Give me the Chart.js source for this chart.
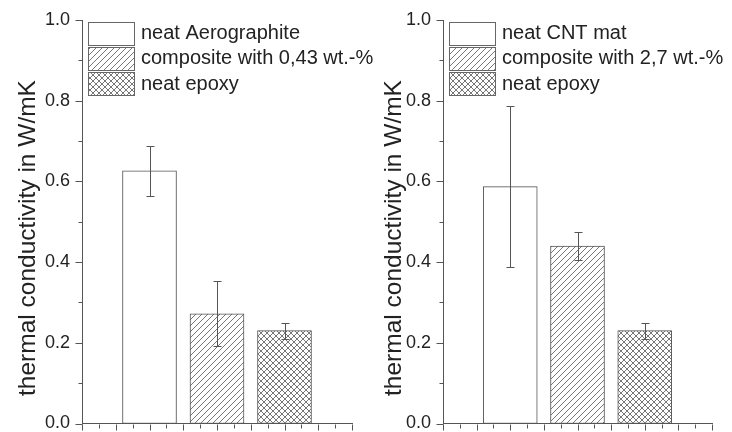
<!DOCTYPE html>
<html>
<head>
<meta charset="utf-8">
<script src="https://cdn.jsdelivr.net/npm/chart.js@4.4.1/dist/chart.umd.min.js"></script>
<style>
  body { margin: 0; background: #fff; }
  .panel { position: absolute; top: 0; height: 432px; }
</style>
</head>
<body>
<div class="panel" style="left:366px"><canvas id="cnt" width="366" height="432"></canvas></div>
<!-- left canvas is wider so its longest legend entry can run past the panel edge -->
<div class="panel" style="left:0"><canvas id="aero" width="392" height="432"></canvas></div>
<script>
// bar centres on the (unlabelled) x scale
const barPositions = [2, 4, 6];

// left panel: Aerographite
const aeroLabels = ["neat Aerographite", "composite with 0,43 wt.-%", "neat epoxy"];
const aeroValues = [0.626, 0.272, 0.23];
const aeroErrors = [0.062, 0.08, 0.02];

// right panel: CNT mat
const cntLabels = ["neat CNT mat", "composite with 2,7 wt.-%", "neat epoxy"];
const cntValues = [0.587, 0.44, 0.23];
const cntErrors = [0.2, 0.035, 0.02];

const yMajorTicks = [0, 0.2, 0.4, 0.6, 0.8, 1.0];
const yMinorTicks = [0.1, 0.3, 0.5, 0.7, 0.9];
const xMajorTicks = [0, 1, 2, 3, 4, 5, 6, 7, 8];
const xMinorTicks = [0.5, 1.5, 2.5, 3.5, 4.5, 5.5, 6.5, 7.5];

const yTitle = "thermal conductivity in W/mK";
const FONT = "'Liberation Sans', Arial, sans-serif";
const LINE = "#555";
const TEXT = "#222";

function makePattern(kind) {
  const s = 6;
  const c = document.createElement("canvas");
  c.width = s;
  c.height = s;
  const g = c.getContext("2d");
  g.fillStyle = "#fff";
  g.fillRect(0, 0, s, s);
  g.strokeStyle = "#777";
  g.lineWidth = 1;
  g.beginPath();
  g.moveTo(-1, s + 1); g.lineTo(s + 1, -1);
  g.moveTo(-1, 1); g.lineTo(1, -1);
  g.moveTo(s - 1, s + 1); g.lineTo(s + 1, s - 1);
  if (kind === "cross") {
    g.moveTo(-1, -1); g.lineTo(s + 1, s + 1);
    g.moveTo(s - 1, -1); g.lineTo(s + 1, 1);
    g.moveTo(-1, s - 1); g.lineTo(1, s + 1);
  }
  g.stroke();
  return g.createPattern(c, "repeat");
}

// outward tick marks, long on major and short on minor values
const tickMarks = {
  id: "tickMarks",
  afterDraw(chart) {
    const { ctx } = chart;
    const x = chart.scales.x, y = chart.scales.y;
    ctx.save();
    ctx.strokeStyle = LINE;
    ctx.lineWidth = 1;
    ctx.beginPath();
    const ax = Math.round(y.right) + 0.5;
    yMajorTicks.forEach((v) => {
      const py = Math.round(y.getPixelForValue(v)) + 0.5;
      ctx.moveTo(ax, py); ctx.lineTo(ax - 7, py);
    });
    yMinorTicks.forEach((v) => {
      const py = Math.round(y.getPixelForValue(v)) + 0.5;
      ctx.moveTo(ax, py); ctx.lineTo(ax - 4, py);
    });
    const ay = Math.round(x.top) + 0.5;
    xMajorTicks.forEach((v) => {
      const px = Math.round(x.getPixelForValue(v)) + 0.5;
      ctx.moveTo(px, ay); ctx.lineTo(px, ay + 6);
    });
    xMinorTicks.forEach((v) => {
      const px = Math.round(x.getPixelForValue(v)) + 0.5;
      ctx.moveTo(px, ay); ctx.lineTo(px, ay + 4);
    });
    ctx.stroke();
    ctx.restore();
  },
};

// symmetric error bars with caps
const errorBars = {
  id: "errorBars",
  afterDatasetsDraw(chart, args, opts) {
    const { ctx } = chart;
    const y = chart.scales.y;
    ctx.save();
    ctx.strokeStyle = LINE;
    ctx.lineWidth = 1;
    ctx.beginPath();
    chart.data.datasets.forEach((ds, i) => {
      const bar = chart.getDatasetMeta(i).data[0];
      const v = ds.data[0].y;
      const e = opts.errors[i];
      const px = Math.round(bar.x) + 0.5;
      const top = Math.round(y.getPixelForValue(v + e)) + 0.5;
      const bot = Math.round(y.getPixelForValue(v - e)) + 0.5;
      ctx.moveTo(px, top); ctx.lineTo(px, bot);
      ctx.moveTo(px - 4, top); ctx.lineTo(px + 4, top);
      ctx.moveTo(px - 4, bot); ctx.lineTo(px + 4, bot);
    });
    ctx.stroke();
    ctx.restore();
  },
};

// stacked legend in the top-left corner of the plot
const boxLegend = {
  id: "boxLegend",
  afterDraw(chart) {
    const { ctx, chartArea } = chart;
    const x0 = chartArea.left + 6;
    ctx.save();
    ctx.font = "20px " + FONT;
    ctx.textBaseline = "middle";
    chart.data.datasets.forEach((ds, i) => {
      const top = chartArea.top + 1.5 + i * 25.4;
      ctx.fillStyle = ds.backgroundColor;
      ctx.fillRect(x0, top, 46, 23);
      ctx.strokeStyle = "#666";
      ctx.lineWidth = 1;
      ctx.strokeRect(Math.round(x0) + 0.5, Math.round(top) + 0.5, 46, 23);
      ctx.fillStyle = TEXT;
      ctx.fillText(ds.label, x0 + 53, top + 12);
    });
    ctx.restore();
  },
};

// rotated y axis title
const axisTitle = {
  id: "axisTitle",
  afterDraw(chart) {
    const { ctx } = chart;
    ctx.save();
    ctx.translate(35, 238);
    ctx.rotate(-Math.PI / 2);
    ctx.font = "24.5px " + FONT;
    ctx.fillStyle = TEXT;
    ctx.textAlign = "center";
    ctx.textBaseline = "alphabetic";
    ctx.fillText(yTitle, 0, 0);
    ctx.restore();
  },
};

function makeChart(id, labels, values, errors, yAxisWidth, padRight) {
  const fills = ["#fff", makePattern("hatch"), makePattern("cross")];
  const datasets = labels.map((label, i) => ({
    label: label,
    data: [{ x: barPositions[i], y: values[i] }],
    backgroundColor: fills[i],
    borderColor: LINE,
    borderWidth: 1,
    borderSkipped: false,
    barThickness: 54,
    grouped: false,
  }));
  return new Chart(document.getElementById(id), {
    type: "bar",
    data: { datasets: datasets },
    options: {
      responsive: false,
      animation: false,
      layout: { padding: { top: 20, right: padRight, left: 0, bottom: 0 } },
      plugins: {
        legend: { display: false },
        tooltip: { enabled: false },
        errorBars: { errors: errors },
      },
      scales: {
        x: {
          type: "linear",
          min: 0,
          max: 8,
          offset: false,
          grid: { display: false, drawTicks: false },
          border: { display: true, color: LINE, width: 1 },
          ticks: { display: false },
          afterFit: (s) => {
            s.height = 8.5;
            s.paddingLeft = 0;
            s.paddingRight = 0;
          },
        },
        y: {
          min: 0,
          max: 1,
          grid: { display: false, drawTicks: false },
          border: { display: true, color: LINE, width: 1 },
          afterBuildTicks: (s) => { s.ticks = yMajorTicks.map((v) => ({ value: v })); },
          ticks: {
            padding: 12,
            color: TEXT,
            font: { family: FONT, size: 18 },
            callback: (v) => v.toFixed(1),
          },
          afterFit: (s) => {
            s.width = yAxisWidth;
            s.paddingTop = 0;
            s.paddingBottom = 0;
          },
        },
      },
    },
    plugins: [tickMarks, errorBars, boxLegend, axisTitle],
  });
}

makeChart("aero", aeroLabels, aeroValues, aeroErrors, 82, 40);
makeChart("cnt", cntLabels, cntValues, cntErrors, 77, 20);
</script>
</body>
</html>
